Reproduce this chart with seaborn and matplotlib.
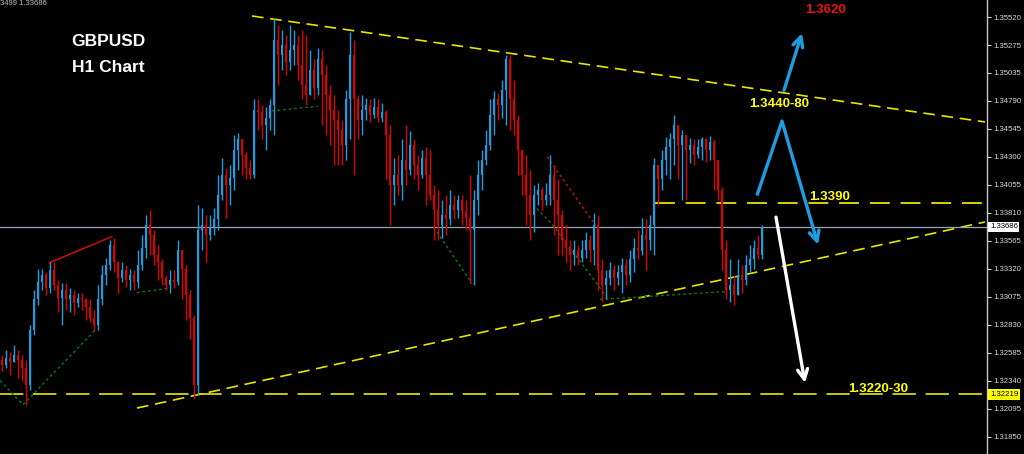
import numpy as np
import pandas as pd
import matplotlib
matplotlib.use("Agg")
import matplotlib.pyplot as plt
import matplotlib.transforms as mtransforms
import seaborn as sns

# GBPUSD H1 bars (open = previous close)
first_open = 1.3252
closes = [
    1.3248, 1.3254, 1.3250, 1.3256, 1.3252, 1.3245, 1.3230, 1.3278, 1.3305, 1.3320,
    1.3326, 1.3315, 1.3331, 1.3318, 1.3306, 1.3313, 1.3305, 1.3309, 1.3302, 1.3306,
    1.3305, 1.3298, 1.3289, 1.3283, 1.3305, 1.3326, 1.3335, 1.3353, 1.3338, 1.3324,
    1.3331, 1.3322, 1.3326, 1.3320, 1.3335, 1.3350, 1.3370, 1.3361, 1.3344, 1.3338,
    1.3324, 1.3318, 1.3322, 1.3320, 1.3348, 1.3332, 1.3309, 1.3289, 1.3230, 1.3366,
    1.3370, 1.3361, 1.3368, 1.3375, 1.3396, 1.3414, 1.3405, 1.3411, 1.3436, 1.3445,
    1.3431, 1.3420, 1.3414, 1.3471, 1.3469, 1.3458, 1.3464, 1.3475, 1.3532, 1.3519,
    1.3528, 1.3513, 1.3523, 1.3528, 1.3510, 1.3493, 1.3484, 1.3506, 1.3490, 1.3515,
    1.3501, 1.3484, 1.3471, 1.3462, 1.3453, 1.3440, 1.3480, 1.3519, 1.3480, 1.3462,
    1.3471, 1.3475, 1.3466, 1.3473, 1.3464, 1.3469, 1.3449, 1.3405, 1.3414, 1.3405,
    1.3427, 1.3418, 1.3440, 1.3423, 1.3414, 1.3429, 1.3414, 1.3396, 1.3383, 1.3370,
    1.3379, 1.3375, 1.3388, 1.3383, 1.3392, 1.3382, 1.3376, 1.3366, 1.3392, 1.3414,
    1.3427, 1.3440, 1.3466, 1.3480, 1.3475, 1.3488, 1.3515, 1.3480, 1.3462, 1.3436,
    1.3414, 1.3396, 1.3379, 1.3396, 1.3401, 1.3392, 1.3396, 1.3414, 1.3392, 1.3379,
    1.3357, 1.3350, 1.3344, 1.3348, 1.3341, 1.3348, 1.3357, 1.3348, 1.3370, 1.3331,
    1.3318, 1.3324, 1.3331, 1.3324, 1.3329, 1.3335, 1.3326, 1.3340, 1.3350, 1.3347,
    1.3361, 1.3357, 1.3370, 1.3423, 1.3410, 1.3427, 1.3438, 1.3445, 1.3458, 1.3440,
    1.3449, 1.3436, 1.3440, 1.3431, 1.3438, 1.3445, 1.3436, 1.3443, 1.3427, 1.3401,
    1.3348, 1.3313, 1.3318, 1.3309, 1.3326, 1.3322, 1.3335, 1.3340, 1.3350, 1.3344,
    1.33686,
]
highs = [
    1.3256, 1.3261, 1.3259, 1.3265, 1.3261, 1.3256, 1.3252, 1.3283, 1.3313, 1.3332,
    1.3332, 1.3329, 1.3338, 1.3338, 1.3322, 1.3319, 1.3319, 1.3315, 1.3313, 1.3311,
    1.3311, 1.3306, 1.3305, 1.3296, 1.3318, 1.3335, 1.3341, 1.3357, 1.3359, 1.3338,
    1.3338, 1.3335, 1.3332, 1.3331, 1.3348, 1.3361, 1.3379, 1.3383, 1.3366, 1.3353,
    1.3340, 1.3326, 1.3331, 1.3331, 1.3357, 1.3348, 1.3335, 1.3313, 1.3291, 1.3388,
    1.3385, 1.3379, 1.3379, 1.3385, 1.3414, 1.3429, 1.3420, 1.3423, 1.3449, 1.3451,
    1.3445, 1.3434, 1.3427, 1.3480, 1.3480, 1.3475, 1.3473, 1.3480, 1.3550, 1.3545,
    1.3541, 1.3536, 1.3545, 1.3541, 1.3536, 1.3541, 1.3536, 1.3523, 1.3515, 1.3525,
    1.3523, 1.3510, 1.3493, 1.3484, 1.3471, 1.3462, 1.3488, 1.3539, 1.3532, 1.3484,
    1.3484, 1.3481, 1.3480, 1.3481, 1.3480, 1.3477, 1.3471, 1.3458, 1.3429, 1.3431,
    1.3445, 1.3458, 1.3452, 1.3445, 1.3431, 1.3436, 1.3438, 1.3436, 1.3405, 1.3401,
    1.3392, 1.3396, 1.3401, 1.3396, 1.3396, 1.3396, 1.3392, 1.3414, 1.3401, 1.3427,
    1.3436, 1.3453, 1.3480, 1.3487, 1.3486, 1.3497, 1.3519, 1.3519, 1.3497, 1.3466,
    1.3436, 1.3431, 1.3418, 1.3405, 1.3407, 1.3403, 1.3407, 1.3431, 1.3423, 1.3410,
    1.3383, 1.3370, 1.3357, 1.3357, 1.3353, 1.3357, 1.3364, 1.3361, 1.3381, 1.3379,
    1.3340, 1.3331, 1.3338, 1.3335, 1.3335, 1.3341, 1.3340, 1.3348, 1.3359, 1.3366,
    1.3376, 1.3375, 1.3379, 1.3429, 1.3423, 1.3436, 1.3447, 1.3451, 1.3466, 1.3458,
    1.3453, 1.3449, 1.3446, 1.3445, 1.3445, 1.3447, 1.3446, 1.3448, 1.3445, 1.3427,
    1.3403, 1.3357, 1.3340, 1.3326, 1.3340, 1.3335, 1.3344, 1.3353, 1.3357, 1.3361,
    1.3370,
]
lows = [
    1.3242, 1.3245, 1.3239, 1.3250, 1.3236, 1.3234, 1.3213, 1.3226, 1.3274, 1.3300,
    1.3313, 1.3309, 1.3311, 1.3313, 1.3294, 1.3283, 1.3296, 1.3294, 1.3291, 1.3298,
    1.3296, 1.3287, 1.3285, 1.3277, 1.3278, 1.3300, 1.3318, 1.3331, 1.3329, 1.3311,
    1.3320, 1.3316, 1.3313, 1.3313, 1.3315, 1.3331, 1.3341, 1.3344, 1.3335, 1.3322,
    1.3318, 1.3313, 1.3311, 1.3315, 1.3318, 1.3305, 1.3287, 1.3270, 1.3219, 1.3221,
    1.3348, 1.3338, 1.3357, 1.3361, 1.3366, 1.3392, 1.3376, 1.3388, 1.3401, 1.3418,
    1.3414, 1.3410, 1.3410, 1.3411, 1.3453, 1.3445, 1.3436, 1.3453, 1.3449, 1.3493,
    1.3506, 1.3501, 1.3506, 1.3510, 1.3497, 1.3480, 1.3475, 1.3484, 1.3480, 1.3484,
    1.3458, 1.3449, 1.3440, 1.3423, 1.3423, 1.3423, 1.3427, 1.3445, 1.3414, 1.3445,
    1.3449, 1.3462, 1.3460, 1.3464, 1.3460, 1.3460, 1.3410, 1.3370, 1.3388, 1.3396,
    1.3392, 1.3405, 1.3414, 1.3410, 1.3401, 1.3411, 1.3388, 1.3392, 1.3357, 1.3357,
    1.3359, 1.3361, 1.3370, 1.3375, 1.3376, 1.3370, 1.3366, 1.3319, 1.3318, 1.3379,
    1.3401, 1.3423, 1.3436, 1.3449, 1.3462, 1.3464, 1.3458, 1.3453, 1.3449, 1.3414,
    1.3396, 1.3370, 1.3357, 1.3364, 1.3388, 1.3383, 1.3388, 1.3388, 1.3361, 1.3344,
    1.3344, 1.3338, 1.3331, 1.3335, 1.3335, 1.3338, 1.3341, 1.3338, 1.3335, 1.3313,
    1.3303, 1.3305, 1.3318, 1.3313, 1.3318, 1.3311, 1.3318, 1.3320, 1.3329, 1.3340,
    1.3344, 1.3331, 1.3348, 1.3344, 1.3388, 1.3401, 1.3414, 1.3410, 1.3423, 1.3410,
    1.3392, 1.3392, 1.3424, 1.3423, 1.3429, 1.3427, 1.3425, 1.3427, 1.3401, 1.3392,
    1.3331, 1.3305, 1.3303, 1.3300, 1.3309, 1.3311, 1.3318, 1.3329, 1.3332, 1.3340,
    1.3340,
]

y_ticks = [1.35520, 1.35275, 1.35035, 1.34790, 1.34545, 1.34300, 1.34055, 1.33810,
           1.33565, 1.33320, 1.33075, 1.32830, 1.32585, 1.32340, 1.32095, 1.31850]
last_price = 1.33686
support_price = 1.32219
level_1390 = 1.3389

# drawn objects (bar index, price)
upper_trend_x = [62.5, 245.75]
upper_trend_y = [1.35530, 1.34603]
lower_trend_x = [33.75, 245.75]
lower_trend_y = [1.32100, 1.33728]
level_1390_x = [163.25, 245.75]

zigzag_green = [
    ([-0.5, 5.25, 23.25], [1.3234, 1.3213, 1.3278]),
    ([33.75, 42.0], [1.3311, 1.3315]),
    ([67.5, 79.0], [1.3470, 1.3474]),
    ([108.75, 117.5], [1.3364, 1.3319]),
    ([132.75, 137.5, 151.25], [1.3388, 1.3371, 1.3307]),
    ([149.5, 181.25], [1.3305, 1.3312]),
]
zigzag_red_solid = ([11.75, 27.5], [1.3337, 1.3360])
zigzag_red_dot = ([136.25, 147.75], [1.3430, 1.3373])

up_arrow = ([195.5, 200.0], [1.3488, 1.3538])
lambda_path = ([188.75, 195.0, 204.0], [1.3396, 1.3461, 1.3353])
down_arrow = ([193.5, 200.75], [1.3377, 1.3232])

bull = "#1c9fe2"
bear = "#dd0000"
yellow = "#e6e600"

sns.set_style("dark", {"axes.facecolor": "black", "figure.facecolor": "black",
                       "axes.edgecolor": "#c8c8c8", "grid.color": "black"})
plt.rcParams["font.family"] = ["Liberation Sans", "DejaVu Sans"]

df = pd.DataFrame({"close": closes, "high": highs, "low": lows})
df["open"] = [first_open] + closes[:-1]
df["bar"] = np.arange(len(df))
rising = df["close"] >= df["open"]
cols = np.where(rising, bull, bear)

fig = plt.figure(figsize=(10.24, 4.54), dpi=100)
fig.patch.set_facecolor("black")
ax = fig.add_axes([0, 0, 987 / 1024, 1])
ax.set_facecolor("black")

# price level lines behind candles
ax.axhline(support_price, color="#c8c800", lw=1.4, ls=(0, (12, 5)), zorder=1)
ax.plot(level_1390_x, [level_1390, level_1390], color=yellow, lw=1.3, ls=(0, (11, 6)), zorder=1)
ax.plot(upper_trend_x, upper_trend_y, color=yellow, lw=1.2, ls=(0, (7, 4)), zorder=1)
ax.plot(lower_trend_x, lower_trend_y, color=yellow, lw=1.2, ls=(0, (7, 4)), zorder=1)
ax.axhline(last_price, color="#9aa3b5", lw=0.9, zorder=1)

for xs, ys in zigzag_green:
    ax.plot(xs, ys, color="#0b7a0b", lw=1, ls=(0, (2, 2)), zorder=1.5)
ax.plot(*zigzag_red_solid, color="#d01010", lw=1.1, zorder=1.5)
ax.plot(*zigzag_red_dot, color="#c01010", lw=1, ls=(0, (2, 2)), zorder=1.5)

# candles
ax.vlines(df["bar"], df["low"], df["high"], colors=cols, lw=1, zorder=2)
body_low = np.minimum(df["open"], df["close"])
body_h = np.maximum((df["close"] - df["open"]).abs(), 0.00006)
ax.bar(df["bar"], body_h, bottom=body_low, width=0.7, color=cols, linewidth=0, zorder=2)

# arrows
ax.annotate("", xy=(up_arrow[0][1], up_arrow[1][1]), xytext=(up_arrow[0][0], up_arrow[1][0]),
            arrowprops=dict(arrowstyle="->", color=bull, lw=2.4, mutation_scale=18,
                            shrinkA=0, shrinkB=0), zorder=4)
ax.plot(lambda_path[0][:2], lambda_path[1][:2], color=bull, lw=2.4, solid_capstyle="butt", zorder=4)
ax.annotate("", xy=(lambda_path[0][2], lambda_path[1][2]), xytext=(lambda_path[0][1], lambda_path[1][1]),
            arrowprops=dict(arrowstyle="->", color=bull, lw=2.4, mutation_scale=18,
                            shrinkA=0, shrinkB=0), zorder=4)
ax.annotate("", xy=(down_arrow[0][1], down_arrow[1][1]), xytext=(down_arrow[0][0], down_arrow[1][0]),
            arrowprops=dict(arrowstyle="->", color="white", lw=2.4, mutation_scale=18,
                            shrinkA=0, shrinkB=0), zorder=4)

# level labels
lbl = dict(fontsize=9.5, fontweight="bold", ha="center", va="center", zorder=5)
ax.text(206.0, 1.3558, "1.3620", color="#ee1111", **lbl)
ax.text(194.25, 1.3476, "1.3440-80", color="#ffff00", **lbl)
ax.text(207.0, 1.3395, "1.3390", color="#ffff00", **lbl)
ax.text(219.0, 1.3227, "1.3220-30", color="#ffff00", **lbl)

fig.text(108 / 1024, 1 - 42 / 454, "GBPUSD", color="white", fontsize=12.5,
         fontweight="bold", ha="center", va="center")
fig.text(108 / 1024, 1 - 68 / 454, "H1 Chart", color="white", fontsize=12.5,
         fontweight="bold", ha="center", va="center")
fig.text(0.0, 1.0, "3499 1.33686", color="#c0c0c0", fontsize=5.5, ha="left", va="top")

# axes
ax.set_xlim(-0.5, 246.25)
ax.set_ylim(1.31698, 1.35670)
ax.set_xticks([])
ax.yaxis.tick_right()
ax.set_yticks(y_ticks)
ax.set_yticklabels([f"{v:.5f}" for v in y_ticks])
ax.tick_params(axis="y", colors="#d8d8d8", direction="out", length=3, width=0.8,
               labelsize=5.6, pad=1.5)
ax.grid(False)
for s in ["top", "left", "bottom"]:
    ax.spines[s].set_visible(False)
ax.spines["right"].set_color("#c8c8c8")
ax.spines["right"].set_linewidth(1)

trans = mtransforms.blended_transform_factory(ax.transAxes, ax.transData)
ax.text(1.003, last_price, f"{last_price:.5f}", transform=trans, color="black", fontsize=5.6,
        ha="left", va="center", clip_on=False,
        bbox=dict(facecolor="white", edgecolor="none", pad=1.2))
ax.text(1.003, support_price, f"{support_price:.5f}", transform=trans, color="black", fontsize=5.6,
        ha="left", va="center", clip_on=False,
        bbox=dict(facecolor="#ffff00", edgecolor="none", pad=1.2))

fig.savefig("out.png", dpi=100, facecolor="black")
